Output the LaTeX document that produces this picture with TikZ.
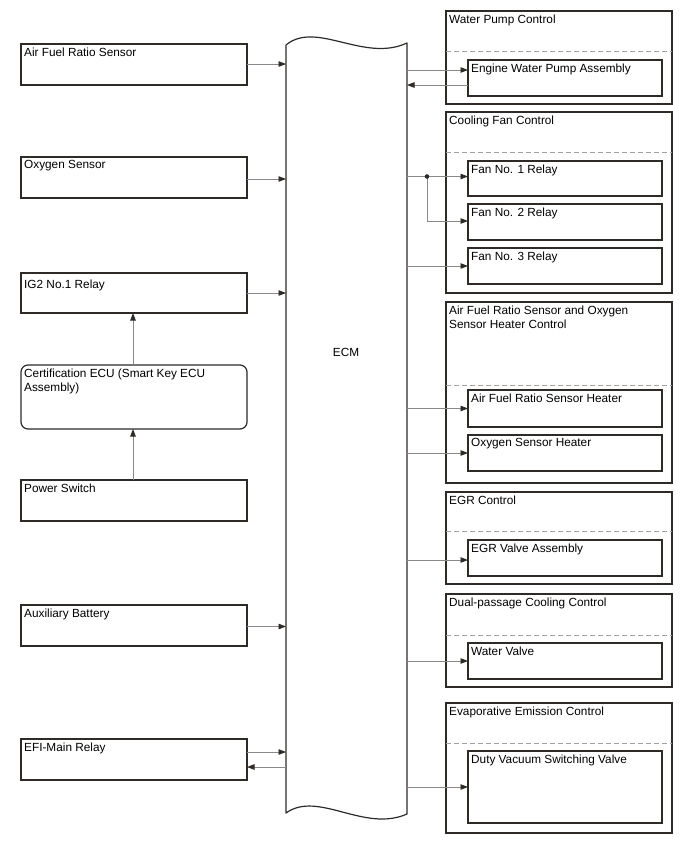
\documentclass[tikz,border=0pt]{standalone}
\usepackage{fontspec}
\setmainfont{Liberation Sans}
\usetikzlibrary{arrows.meta}
\definecolor{edgec}{HTML}{2E2A28}
\definecolor{wirec}{HTML}{8A8A8A}
\definecolor{sepc}{HTML}{A0A0A0}
\begin{document}
\begin{tikzpicture}[x=1pt,y=-1pt,
  font=\fontsize{11.8}{14}\selectfont,
  box/.style={draw=edgec, line width=1.2pt, anchor=north west, outer sep=0pt, inner sep=0pt, fill=white},
  lbox/.style={box, minimum width=226pt, minimum height=41pt},
  gbox/.style={box, minimum width=226pt},
  ibox/.style={box, minimum width=194pt},
  lab/.style={anchor=north west, inner xsep=3pt, inner ysep=3.5pt, align=left},
  wire/.style={draw=wirec, line width=0.8pt, -{Triangle[length=7.5pt,width=5.5pt,color=edgec]}},
  sepline/.style={draw=sepc, line width=0.7pt, dash pattern=on 5pt off 3pt}]
\useasboundingbox (0,0) rectangle (688,852);

% ---- left column
\node[lbox, label={[lab]north west:Air Fuel Ratio Sensor}] (afr) at (21,44) {};
\node[lbox, label={[lab]north west:Oxygen Sensor}] (oxy) at (21,157) {};
\node[lbox, minimum height=40pt, label={[lab, yshift=-3pt]north west:IG2 No.1 Relay}] (ig2) at (21,273) {};
\node[lbox, minimum height=64pt, rounded corners=7pt, label={[lab]north west:Certification ECU (Smart Key ECU\\Assembly)}] (cert) at (21,365) {};
\node[lbox, label={[lab]north west:Power Switch}] (psw) at (21,480) {};
\node[lbox, label={[lab]north west:Auxiliary Battery}] (aux) at (21,605) {};
\node[lbox, label={[lab]north west:EFI-Main Relay}] (efi) at (21,739) {};

% ---- ECM
\node[anchor=north west, minimum width=121pt, minimum height=769pt, inner sep=0pt, outer sep=0pt] (ecm) at (286,45) {};
\draw[draw=edgec, line width=1.2pt, line join=round]
  (286,45) .. controls (316,20) and (364,63) .. (407,43)
  -- (407,814) .. controls (364,833) and (318,790) .. (286,813) -- cycle;
\node (ecmlabel) at (346,352) {ECM};

% ---- right column
\node[gbox, minimum height=93pt, label={[lab]north west:Water Pump Control}] (wpc) at (446,11) {};
\draw[sepline] (wpc.west |- 0,51.5) -- (wpc.east |- 0,51.5);
\node[ibox, minimum height=36pt, label={[lab]north west:Engine Water Pump Assembly}] (wp) at (468,60) {};

\node[gbox, minimum height=181pt, label={[lab]north west:Cooling Fan Control}] (cfc) at (446,112) {};
\draw[sepline] (cfc.west |- 0,152) -- (cfc.east |- 0,152);
\node[ibox, minimum height=35pt, label={[lab]north west:Fan No. 1 Relay}] (fan1) at (468,161) {};
\node[ibox, minimum height=36pt, label={[lab]north west:Fan No. 2 Relay}] (fan2) at (468,204) {};
\node[ibox, minimum height=36pt, label={[lab]north west:Fan No. 3 Relay}] (fan3) at (468,248) {};

\node[gbox, minimum height=181pt, label={[lab]north west:Air Fuel Ratio Sensor and Oxygen\\Sensor Heater Control}] (hc) at (446,302) {};
\draw[sepline] (hc.west |- 0,385.5) -- (hc.east |- 0,385.5);
\node[ibox, minimum height=37pt, label={[lab]north west:Air Fuel Ratio Sensor Heater}] (afh) at (468,390) {};
\node[ibox, minimum height=36pt, label={[lab]north west:Oxygen Sensor Heater}] (o2h) at (468,435) {};

\node[gbox, minimum height=92pt, label={[lab]north west:EGR Control}] (egr) at (446,492) {};
\draw[sepline] (egr.west |- 0,531.5) -- (egr.east |- 0,531.5);
\node[ibox, minimum height=36pt, label={[lab]north west:EGR Valve Assembly}] (egrv) at (468,540) {};

\node[gbox, minimum height=93pt, label={[lab]north west:Dual-passage Cooling Control}] (dpc) at (446,594) {};
\draw[sepline] (dpc.west |- 0,635) -- (dpc.east |- 0,635);
\node[ibox, minimum height=36pt, label={[lab]north west:Water Valve}] (wv) at (468,643) {};

\node[gbox, minimum height=130pt, label={[lab]north west:Evaporative Emission Control}] (eec) at (446,703) {};
\draw[sepline] (eec.west |- 0,743) -- (eec.east |- 0,743);
\node[ibox, minimum height=72pt, label={[lab]north west:Duty Vacuum Switching Valve}] (vsv) at (468,751) {};

% ---- connectors, left side
\draw[wire] ([yshift=0.5pt]afr.east) -- ([yshift=0.5pt]afr.east -| ecm.west);
\draw[wire] ([yshift=-1.5pt]oxy.east) -- ([yshift=-1.5pt]oxy.east -| ecm.west);
\draw[wire] (ig2.east) -- (ig2.east -| ecm.west);
\draw[wire] ([yshift=-1pt]aux.east) -- ([yshift=-1pt]aux.east -| ecm.west);
\draw[wire] ([yshift=7.5pt]efi.east) -- ([yshift=7.5pt]efi.east -| ecm.west);
\draw[wire] ([yshift=-7.5pt]efi.east -| ecm.west) -- ([yshift=-7.5pt]efi.east);
\draw[wire] (cert.north -| 133,0) -- (ig2.south -| 133,0);
\draw[wire] (psw.north -| 133,0) -- (cert.south -| 133,0);

% ---- connectors, right side
\draw[wire] ([yshift=8pt]wp.west -| ecm.east) -- ([yshift=8pt]wp.west);
\draw[wire] ([yshift=-7pt]wp.west) -- ([yshift=-7pt]wp.west -| ecm.east);
\coordinate (jn) at ([xshift=-41pt,yshift=2pt]fan1.west);
\draw[wire] ([yshift=2pt]fan1.west -| ecm.east) -- ([yshift=2pt]fan1.west);
\draw[wire] (jn) |- ([yshift=1pt]fan2.west);
\fill[edgec] (jn) circle (2.3pt);
\draw[wire] (fan3.west -| ecm.east) -- (fan3.west);
\draw[wire] (afh.west -| ecm.east) -- (afh.west);
\draw[wire] (o2h.west -| ecm.east) -- (o2h.west);
\draw[wire] ([yshift=-2pt]egrv.west -| ecm.east) -- ([yshift=-2pt]egrv.west);
\draw[wire] (wv.west -| ecm.east) -- (wv.west);
\draw[wire] (vsv.west -| ecm.east) -- (vsv.west);
\end{tikzpicture}
\end{document}
